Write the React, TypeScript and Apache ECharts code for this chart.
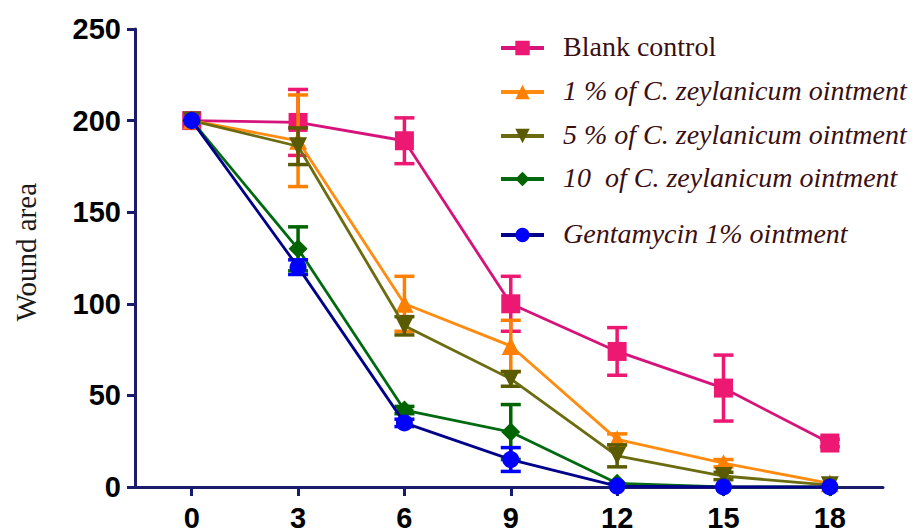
import React, { useEffect, useRef } from "react";
import * as echarts from "echarts";

const days = [0, 3, 6, 9, 12, 15, 18];
const xTickLabels = [0, 3, 6, 9, 12, 15, 18];

const blankControl = [200, 199, 189, 100, 74, 54, 24];
const blankErr = [0, 18, 12.5, 15, 13, 18, 2];

const oint1 = [200, 189, 100, 77, 26, 13, 2];
const oint1Err = [0, 25, 15, 14, 3, 2, 0];

const oint5 = [200, 186, 88, 59, 17, 6, 1];
const oint5Err = [0, 10, 5, 4, 6, 2, 0];

const oint10 = [200, 130, 42, 30, 2, 0, 0];
const oint10Err = [0, 12, 2, 15, 0, 0, 0];

const genta = [200, 120, 35, 15, 0.5, 0, 0];
const gentaErr = [0, 4, 2, 6.5, 0, 0, 0];

const seriesNames = [
  "Blank control",
  "1 % of C. zeylanicum ointment",
  "5 % of C. zeylanicum ointment",
  "10  of C. zeylanicum ointment",
  "Gentamycin 1% ointment",
];
const yAxisTitle = "Wound area";

const triDown = "path://M0,0 L10,0 L5,10 Z";
const SERIF = "Liberation Serif";

export default function App() {
  const ref = useRef<HTMLDivElement>(null);
  useEffect(() => {
    if (!ref.current) return;
    const chart = echarts.init(ref.current, null, { renderer: "svg" });

    const groups = [
      { name: seriesNames[0], vals: blankControl, errs: blankErr, marker: "#ec1872", line: "#d6137a", symbol: "rect", size: 19, italic: false },
      { name: seriesNames[1], vals: oint1, errs: oint1Err, marker: "#ff7f00", line: "#ff8c10", symbol: "triangle", size: 18, italic: true },
      { name: seriesNames[2], vals: oint5, errs: oint5Err, marker: "#5a5a00", line: "#6b6b10", symbol: triDown, size: 18, italic: true },
      { name: seriesNames[3], vals: oint10, errs: oint10Err, marker: "#006400", line: "#006a10", symbol: "diamond", size: 19, italic: true },
      { name: seriesNames[4], vals: genta, errs: gentaErr, marker: "#0000ff", line: "#00008b", symbol: "circle", size: 17, italic: true },
    ];

    const series: any[] = [];
    groups.forEach((g, gi) => {
      const errData = days
        .map((d, i) => [d, g.vals[i], g.errs[i]])
        .filter((r) => r[2] > 0);
      series.push({
        name: "err" + gi,
        type: "custom",
        data: errData,
        z: 2 + gi,
        renderItem: (params: any, api: any) => {
          const x = api.value(0);
          const y = api.value(1);
          const e = api.value(2);
          const top = api.coord([x, y + e]);
          const bot = api.coord([x, y - e]);
          const hw = 10;
          const st = { stroke: g.marker, lineWidth: 3.5 };
          return {
            type: "group",
            children: [
              { type: "line", shape: { x1: top[0], y1: top[1], x2: bot[0], y2: bot[1] }, style: st },
              { type: "line", shape: { x1: top[0] - hw, y1: top[1], x2: top[0] + hw, y2: top[1] }, style: st },
              { type: "line", shape: { x1: bot[0] - hw, y1: bot[1], x2: bot[0] + hw, y2: bot[1] }, style: st },
            ],
          };
        },
      });
      series.push({
        name: g.name,
        type: "line",
        data: days.map((d, i) => [d, g.vals[i]]),
        symbol: g.symbol,
        symbolSize: g.size,
        z: 2 + gi,
        lineStyle: { color: g.line, width: 2.8 },
        itemStyle: { color: g.marker },
      });
    });

    const legendRows = [48, 92, 136, 179, 235];
    const legends = groups.map((g, i) => ({
      data: [g.name],
      left: 499,
      top: legendRows[i] - 9,
      padding: 0,
      itemWidth: 43,
      itemHeight: 18,
      selectedMode: false,
      formatter: () => "",
      lineStyle: { width: 4 },
    }));

    const legendTexts = groups.map((g, i) => ({
      type: "text",
      left: 563,
      top: legendRows[i] - 16,
      style: {
        text: g.name,
        fontFamily: SERIF,
        fontSize: 28,
        fontStyle: g.italic ? "italic" : "normal",
        fill: "#3a0f12",
      },
    }));

    chart.setOption({
      animation: false,
      backgroundColor: "#ffffff",
      grid: { left: 135, top: 29, right: 38, bottom: 44, containLabel: false },
      legend: legends,
      graphic: [
        ...legendTexts,
        {
          type: "text",
          left: 11,
          top: 183,
          rotation: Math.PI / 2,
          style: {
            text: yAxisTitle,
            fontFamily: SERIF,
            fontSize: 29,
            fill: "#1a1a1a",
          },
        },
      ],
      xAxis: {
        type: "value",
        min: -1.6,
        max: 19.5,
        axisLine: { show: true, onZero: false, lineStyle: { color: "#1b1b6b", width: 3 } },
        axisTick: { show: true, length: 9, customValues: xTickLabels, lineStyle: { color: "#1b1b6b", width: 3 } },
        axisLabel: {
          customValues: xTickLabels,
          margin: 16,
          fontWeight: "bold",
          fontSize: 29,
          color: "#000000",
        },
        splitLine: { show: false },
      },
      yAxis: {
        type: "value",
        min: 0,
        max: 250,
        interval: 50,
        axisLine: { show: true, onZero: false, lineStyle: { color: "#1b1b6b", width: 3 } },
        axisTick: { show: true, length: 8, lineStyle: { color: "#1b1b6b", width: 3 } },
        axisLabel: {
          margin: 14,
          fontWeight: "bold",
          fontSize: 29,
          color: "#000000",
        },
        splitLine: { show: false },
      },
      series,
    });
    return () => chart.dispose();
  }, []);
  return (
    <div
      ref={ref}
      style={{ position: "fixed", left: 0, top: 0, width: 921, height: 532, background: "#fff" }}
    />
  );
}
